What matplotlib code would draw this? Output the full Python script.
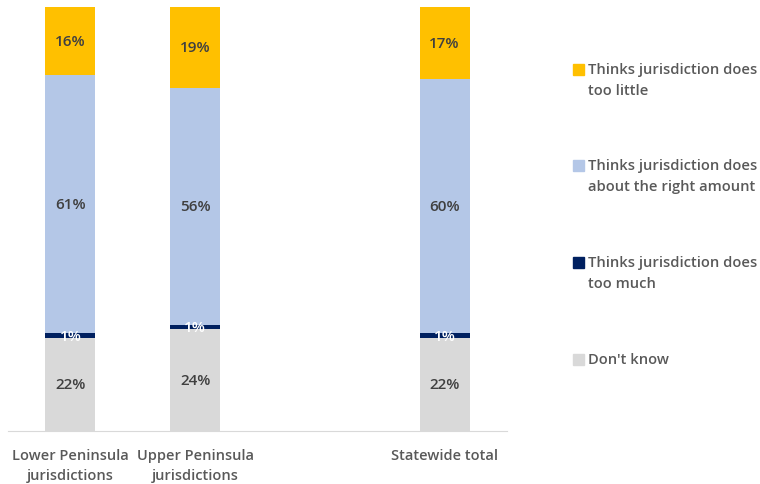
import matplotlib
matplotlib.use("Agg")
import matplotlib.pyplot as plt
from matplotlib.patches import Rectangle

plt.rcParams['font.family'] = ['Open Sans', 'DejaVu Sans']

categories = ["Lower Peninsula\njurisdictions", "Upper Peninsula\njurisdictions", "Statewide total"]
positions = [0, 1, 3]
dont_know = [22, 24, 22]
too_much = [1, 1, 1]
right_amount = [61, 56, 60]
too_little = [16, 19, 17]

series = [
    ("Don't know", dont_know, "#D9D9D9", "#404040"),
    ("Thinks jurisdiction does\ntoo much", too_much, "#002060", "white"),
    ("Thinks jurisdiction does\nabout the right amount", right_amount, "#B4C7E7", "#404040"),
    ("Thinks jurisdiction does\ntoo little", too_little, "#FFC000", "#404040"),
]

W, H = 760, 485
fig = plt.figure(figsize=(7.6, 4.85), dpi=100)
ax = fig.add_axes([8/W, 53/H, 499/W, 424/H])

bottom = [0, 0, 0]
for name, vals, color, tcolor in series:
    bars = ax.bar(positions, vals, width=0.4, bottom=bottom, color=color, label=name, zorder=2)
    for b, v, bt in zip(bars, vals, bottom):
        ax.text(b.get_x() + b.get_width()/2, bt + v/2, f"{v}%", ha='center', va='center',
                color=tcolor, fontsize=11, fontweight='semibold')
    bottom = [a + b for a, b in zip(bottom, vals)]

ax.set_xlim(-0.5, 3.5)
ax.set_ylim(0, 100)
ax.set_yticks([])
ax.set_xticks(positions)
ax.set_xticklabels(categories, fontsize=10.5, color="#595959", fontweight='semibold',
                   linespacing=1.55)
ax.tick_params(axis='x', length=0, pad=12)
for s in ['top', 'right', 'left']:
    ax.spines[s].set_visible(False)
ax.spines['bottom'].set_color('#D9D9D9')

# legend (top to bottom: reversed stacking order)
first_line_y = [70, 166, 263, 360]
for (name, vals, color, tcolor), yc in zip(series[::-1], first_line_y):
    fig.patches.append(Rectangle((573/W, 1 - (yc + 6)/H), 11/W, 11/H, color=color,
                                 transform=fig.transFigure, figure=fig))
    fig.text(588/W, 1 - (yc - 7)/H, name, ha='left', va='top', fontsize=10.6,
             color="#595959", fontweight='semibold', linespacing=1.65)

fig.savefig("out.png", dpi=100)
